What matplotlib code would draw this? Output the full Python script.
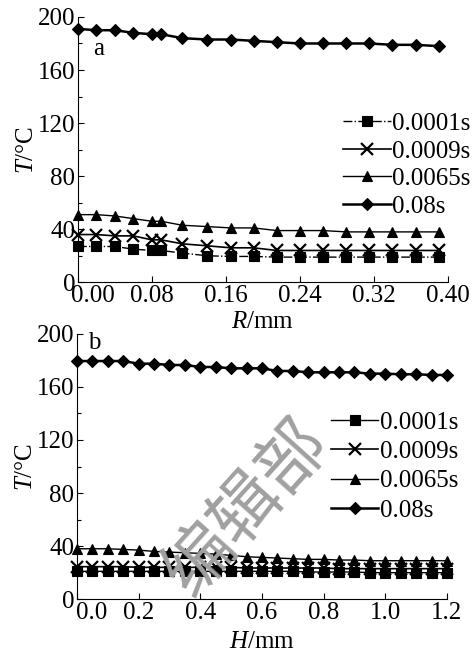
import numpy as np
import matplotlib.pyplot as plt
import matplotlib.transforms as mtrans
from matplotlib.ticker import MultipleLocator

plt.rcParams['font.family'] = ['Liberation Serif', 'DejaVu Serif']
plt.rcParams['mathtext.fontset'] = 'custom'
plt.rcParams['mathtext.it'] = 'Liberation Serif:italic'
plt.rcParams['mathtext.rm'] = 'Liberation Serif'

# 图a：沿半径方向
R = [0.0, 0.02, 0.04, 0.06, 0.08, 0.09, 0.113, 0.14, 0.165, 0.19, 0.215,
     0.24, 0.265, 0.29, 0.315, 0.34, 0.365, 0.39]
a_t1 = [27, 27, 27, 25, 24, 24, 22, 20, 19.5, 19.5, 19, 19, 19, 19, 19, 19, 19, 19]
a_t2 = [36, 36, 35, 35, 32, 32, 29, 27.5, 26, 26, 24, 24, 24, 24, 24, 24, 24, 24]
a_t3 = [51, 51, 50, 48, 46, 46, 43, 42, 41, 41, 39, 39, 39, 38, 38, 38, 38, 38]
a_t4 = [191, 190, 190, 188, 187, 187, 184, 183, 183, 182, 181, 180, 180, 180,
        180, 179, 179, 178]

# 图b：沿深度方向
H = [0.0, 0.05, 0.1, 0.15, 0.2, 0.25, 0.3, 0.35, 0.4, 0.45, 0.5, 0.55, 0.6,
     0.65, 0.7, 0.75, 0.8, 0.85, 0.9, 0.95, 1.0, 1.05, 1.1, 1.15, 1.2]
b_t1 = [21, 21, 21, 21, 21, 21, 21, 21, 21, 21, 21, 21, 21, 21, 21, 20.5, 20.5,
        20.5, 20.5, 20, 20, 20, 20, 20, 20]
b_t2 = [24.5, 24.5, 24.5, 24.5, 24, 24, 24, 24, 24, 24, 24, 23.5, 23.5, 23.5,
        23.5, 23.5, 23.5, 23, 23, 23, 23, 23, 23, 23, 23]
b_t3 = [38, 38, 38, 37.5, 37, 36, 35.5, 35, 34.5, 34, 33, 32, 31.5, 31, 30.5,
        30, 30, 29.5, 29.5, 29, 29, 29, 29, 29, 29]
b_t4 = [179.5, 179.5, 179.5, 179.5, 177.5, 177.5, 176.5, 176.5, 175, 175, 174,
        174, 174, 172, 172, 171, 171, 171, 171, 170, 170, 169.5, 169.5, 169, 169]

labels = ["0.0001s", "0.0009s", "0.0065s", "0.08s"]
FS = 18


def draw_panel(ax, x, ys, styles, xlim, xmajor, xfmt, xlabel, xpad,
               tag, tag_pos, leg_anchor, leg_space):
    markers = ['s', 'x', '^', 'D']
    sizes = [7.5, 8, 7.5, 6.5]
    widths = [1.0, 1.2, 1.0, 1.8]
    for y, m, ms, lw, ls, lab in zip(ys, markers, sizes, widths, styles, labels):
        ax.plot(x, y, color='black', marker=m, markersize=ms, linewidth=lw,
                linestyle=ls, markeredgewidth=1.6 if m == 'x' else 0.8,
                label=lab, clip_on=False, zorder=3)
    ax.set_xlim(*xlim)
    ax.set_ylim(0, 200)
    ax.xaxis.set_major_locator(MultipleLocator(xmajor))
    ax.xaxis.set_major_formatter(xfmt)
    ax.yaxis.set_major_locator(MultipleLocator(40))
    ax.yaxis.set_minor_locator(MultipleLocator(20))
    ax.tick_params(direction='in', labelsize=FS, length=4, width=0.8, pad=2)
    ax.tick_params(which='minor', direction='in', length=3, width=0.8)
    ax.spines['top'].set_visible(False)
    ax.spines['right'].set_visible(False)
    ax.set_xlabel(xlabel, fontsize=FS, labelpad=xpad)
    ax.set_ylabel(r'$T$/°C', fontsize=FS, labelpad=0)
    ax.text(tag_pos[0], tag_pos[1], tag, transform=ax.transAxes, fontsize=FS,
            ha='left', va='center')
    ax.legend(loc='center right', bbox_to_anchor=leg_anchor, frameon=False,
              fontsize=FS, handlelength=1.9, handletextpad=0.05,
              labelspacing=leg_space, borderaxespad=0, borderpad=0)
    # x=0处的刻度标签右移，避开y轴的0
    shift = mtrans.ScaledTranslation(15 / 100, 0, ax.figure.dpi_scale_trans)
    for tick, loc in zip(ax.xaxis.get_major_ticks(), ax.get_xticks()):
        if abs(loc) < 1e-9:
            tick.label1.set_transform(tick.label1.get_transform() + shift)


fig = plt.figure(figsize=(4.75, 6.52), dpi=100)
ax1 = fig.add_axes([0.164, 0.567, 0.779, 0.407])
ax2 = fig.add_axes([0.162, 0.081, 0.779, 0.407])

draw_panel(ax1, R, [a_t1, a_t2, a_t3, a_t4], ['-.', '-', '-', '-'],
           (0, 0.40), 0.08, '{x:.2f}', r'$R$/mm', 3,
           'a', (0.04, 0.88), (1.06, 0.442), 0.2)
draw_panel(ax2, H, [b_t1, b_t2, b_t3, b_t4], ['-', '-', '-', '-'],
           (0, 1.2), 0.2, '{x:.1f}', r'$H$/mm', 5,
           'b', (0.03, 0.965), (1.03, 0.50), 0.27)

# 水印
fig.text(0.52, 0.22, "编辑部", fontsize=50, color='#a0a0a0', rotation=48,
         family=['Noto Sans CJK SC', 'DejaVu Sans'], ha='center', va='center',
         zorder=10)

fig.savefig("out.png", dpi=100)
